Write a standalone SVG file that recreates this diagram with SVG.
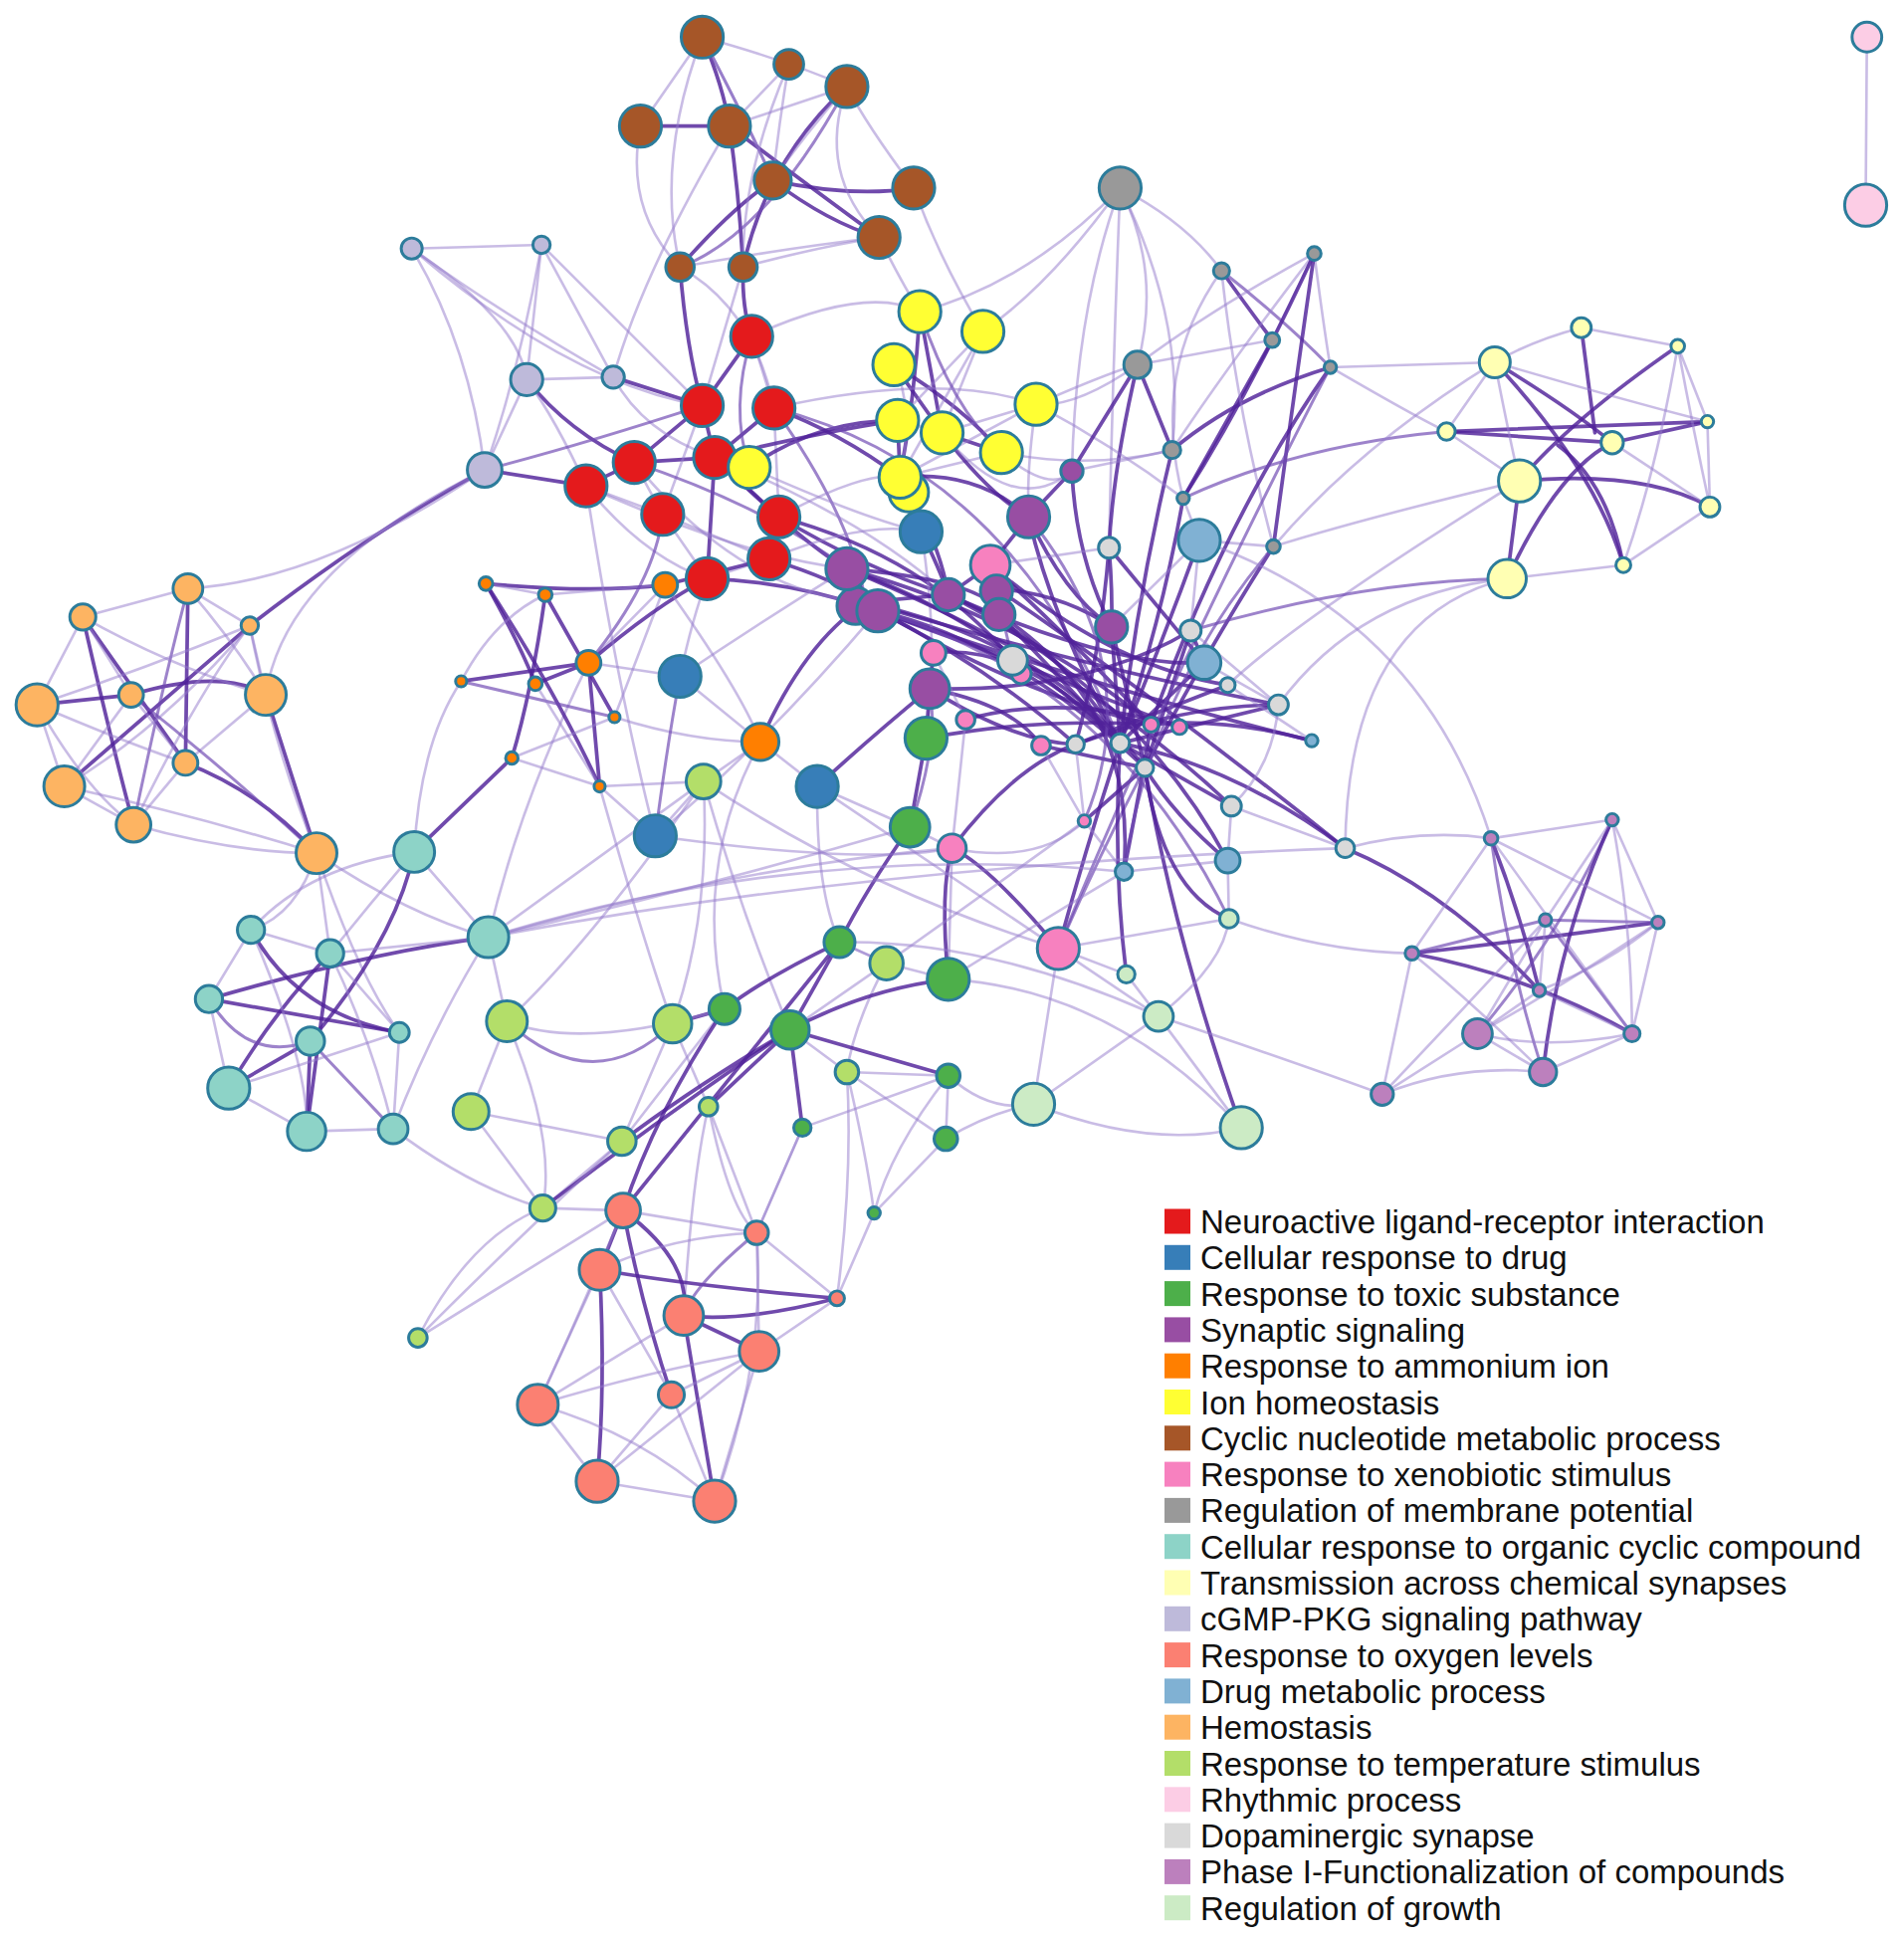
<svg xmlns="http://www.w3.org/2000/svg" width="1913" height="1948" viewBox="0 0 1913 1948">
<style>
.s{fill:none;stroke:#51229A;stroke-opacity:.82;stroke-width:3;stroke-linecap:round}
.m{fill:none;stroke:#6E48B2;stroke-opacity:.68;stroke-width:2.4;stroke-linecap:round}
.w{fill:none;stroke:#9479CC;stroke-opacity:.5;stroke-width:2.1;stroke-linecap:round}
circle{stroke:#2C7C9B;stroke-width:2.4}
.neu circle,rect.neu{fill:#E41A1C}
.drug circle,rect.drug{fill:#377EB8}
.tox circle,rect.tox{fill:#4DAF4A}
.syn circle,rect.syn{fill:#984EA3}
.amm circle,rect.amm{fill:#FF7F00}
.ion circle,rect.ion{fill:#FFFF33}
.cyc circle,rect.cyc{fill:#A65628}
.xen circle,rect.xen{fill:#F781BF}
.mem circle,rect.mem{fill:#999999}
.org circle,rect.org{fill:#8DD3C7}
.tra circle,rect.tra{fill:#FFFFB3}
.cgm circle,rect.cgm{fill:#BEBADA}
.oxy circle,rect.oxy{fill:#FB8072}
.dme circle,rect.dme{fill:#80B1D3}
.hem circle,rect.hem{fill:#FDB462}
.tem circle,rect.tem{fill:#B3DE69}
.rhy circle,rect.rhy{fill:#FCCDE5}
.dop circle,rect.dop{fill:#D9D9D9}
.pha circle,rect.pha{fill:#BC80BD}
.gro circle,rect.gro{fill:#CCEBC5}
rect{stroke:none}
text{font-family:"Liberation Sans",Arial,sans-serif;font-size:33px;fill:#111}
</style>
<rect x="0" y="0" width="1913" height="1948" fill="#fff"/>
<g transform="scale(1.24221)">
<g id="connectors">
<!-- brown -->
<path class="s" d="M518,102 L590,102"/>
<path class="s" d="M568,30 Q585,70 590,102"/>
<path class="s" d="M590,102 Q640,140 711,192"/>
<path class="s" d="M625,146 Q690,160 739,152"/>
<path class="s" d="M601,216 Q620,130 685,70"/>
<path class="s" d="M590,102 Q598,160 601,216"/>
<path class="s" d="M550,216 Q590,170 625,146"/>
<path class="s" d="M625,146 Q670,180 711,192"/>
<path class="m" d="M550,216 Q620,190 685,70"/>
<path class="m" d="M568,30 Q610,110 625,146"/>
<path class="w" d="M568,30 Q640,50 685,70"/>
<path class="w" d="M568,30 L518,102"/>
<path class="w" d="M568,30 Q600,90 625,146"/>
<path class="w" d="M638,52 L590,102"/>
<path class="w" d="M638,52 Q630,100 625,146"/>
<path class="w" d="M685,70 L590,102"/>
<path class="w" d="M685,70 Q650,110 625,146"/>
<path class="w" d="M685,70 Q660,140 711,192"/>
<path class="w" d="M518,102 Q505,170 550,216"/>
<path class="w" d="M550,216 Q640,200 711,192"/>
<path class="w" d="M601,216 Q660,200 711,192"/>
<path class="w" d="M739,152 Q700,100 685,70"/>
<path class="w" d="M568,30 Q530,130 550,216"/>
<path class="w" d="M638,52 Q600,140 601,216"/>
<path class="s" d="M601,216 Q600,250 608,272"/>
<path class="s" d="M550,216 Q555,280 568,328"/>
<path class="w" d="M601,216 L568,328"/>
<path class="w" d="M550,216 Q610,250 626,330"/>
<path class="w" d="M711,192 Q730,230 744,252"/>
<path class="w" d="M739,152 Q760,210 795,268"/>
<path class="w" d="M590,102 Q520,220 496,305"/>
<!-- red -->
<path class="s" d="M608,272 L568,328"/>
<path class="s" d="M568,328 L578,370"/>
<path class="s" d="M513,374 L578,370"/>
<path class="s" d="M578,370 L630,418"/>
<path class="s" d="M630,418 L622,452"/>
<path class="s" d="M578,370 L572,468"/>
<path class="s" d="M474,393 L513,374"/>
<path class="s" d="M626,330 L578,370"/>
<path class="s" d="M568,328 L513,374"/>
<path class="w" d="M608,272 L626,330"/>
<path class="w" d="M513,374 L536,416"/>
<path class="w" d="M536,416 L572,468"/>
<path class="w" d="M474,393 L536,416"/>
<path class="w" d="M626,330 L630,418"/>
<path class="w" d="M536,416 L622,452"/>
<path class="w" d="M474,393 Q520,450 572,468"/>
<path class="w" d="M568,328 L536,416"/>
<path class="s" d="M578,370 L606,378"/>
<path class="m" d="M608,272 Q590,330 606,378"/>
<path class="w" d="M622,452 L572,468"/>
<!-- cGMP -->
<path class="w" d="M333,201 L438,198"/>
<path class="w" d="M333,201 Q400,250 496,305"/>
<path class="w" d="M333,201 Q380,280 392,380"/>
<path class="w" d="M333,201 Q420,260 426,307"/>
<path class="w" d="M438,198 L426,307"/>
<path class="w" d="M438,198 L496,305"/>
<path class="w" d="M438,198 Q420,300 392,380"/>
<path class="w" d="M426,307 L496,305"/>
<path class="s" d="M426,307 Q460,350 513,374"/>
<path class="s" d="M496,305 L568,328"/>
<path class="s" d="M392,380 L474,393"/>
<path class="w" d="M426,307 Q450,340 474,393"/>
<path class="w" d="M392,380 L426,307"/>
<path class="s" d="M392,380 Q300,430 202,506"/>
<path class="w" d="M392,380 Q260,470 152,476"/>
<path class="w" d="M496,305 Q520,350 578,370"/>
<path class="m" d="M392,380 Q470,360 568,328"/>
<path class="w" d="M438,198 Q520,280 568,328"/>
<path class="w" d="M333,201 Q460,310 568,328"/>
<path class="w" d="M215,562 Q230,460 392,380"/>
<!-- yellow -->
<path class="s" d="M744,252 L762,350"/>
<path class="s" d="M744,252 Q740,320 728,386"/>
<path class="s" d="M723,295 Q780,330 810,366"/>
<path class="s" d="M723,295 L762,350"/>
<path class="w" d="M795,268 L726,340"/>
<path class="w" d="M726,340 L762,350"/>
<path class="s" d="M762,350 L810,366"/>
<path class="w" d="M838,327 L728,386"/>
<path class="w" d="M838,327 L762,350"/>
<path class="s" d="M728,386 L735,398"/>
<path class="w" d="M810,366 L728,386"/>
<path class="w" d="M795,268 L728,386"/>
<path class="s" d="M606,378 Q660,340 726,340"/>
<path class="w" d="M744,252 Q830,230 906,152"/>
<path class="w" d="M795,268 L762,350"/>
<path class="s" d="M726,340 L728,386"/>
<path class="s" d="M762,350 Q800,400 832,418"/>
<path class="w" d="M838,327 Q830,380 832,418"/>
<path class="m" d="M744,252 Q770,330 810,366"/>
<path class="w" d="M723,295 Q740,330 728,386"/>
<path class="w" d="M795,268 Q850,230 906,152"/>
<!-- red to hub -->
<path class="s" d="M578,370 Q660,350 726,340"/>
<path class="s" d="M626,330 Q680,350 728,386"/>
<path class="m" d="M626,330 Q690,420 700,487"/>
<path class="s" d="M578,370 Q650,440 685,460"/>
<path class="s" d="M630,418 Q700,460 767,481"/>
<path class="s" d="M572,468 Q640,470 710,494"/>
<path class="s" d="M622,452 Q680,470 700,487"/>
<path class="m" d="M513,374 Q620,410 685,460"/>
<path class="w" d="M474,393 Q600,450 685,460"/>
<path class="s" d="M630,418 Q750,450 819,534"/>
<path class="m" d="M626,330 Q820,380 906,601"/>
<path class="s" d="M685,460 Q800,500 906,601"/>
<path class="s" d="M710,494 Q820,520 926,621"/>
<path class="s" d="M700,487 Q820,560 931,586"/>
<path class="w" d="M606,378 Q700,420 745,430"/>
<path class="w" d="M626,330 Q760,300 838,327"/>
<path class="w" d="M630,418 Q700,380 728,386"/>
<path class="w" d="M608,272 Q700,230 744,252"/>
<path class="w" d="M622,452 Q700,420 745,430"/>
<path class="w" d="M578,370 Q700,420 767,481"/>
<path class="w" d="M513,374 Q600,480 700,487"/>
<!-- gray -->
<path class="w" d="M906,152 Q940,220 920,295"/>
<path class="w" d="M906,152 Q960,180 988,219"/>
<path class="w" d="M906,152 Q900,300 897,443"/>
<path class="w" d="M906,152 Q870,250 867,381"/>
<path class="w" d="M906,152 Q960,260 948,364"/>
<path class="s" d="M920,295 L948,364"/>
<path class="s" d="M920,295 Q900,380 897,443"/>
<path class="w" d="M920,295 L1029,275"/>
<path class="s" d="M988,219 Q1010,250 1029,275"/>
<path class="m" d="M988,219 Q1040,260 1076,297"/>
<path class="w" d="M1063,205 L1029,275"/>
<path class="w" d="M1063,205 Q980,250 920,295"/>
<path class="w" d="M1063,205 Q990,300 948,364"/>
<path class="s" d="M1063,205 Q1010,320 957,403"/>
<path class="w" d="M1076,297 L1209,293"/>
<path class="w" d="M948,364 L867,381"/>
<path class="s" d="M1029,275 L957,403"/>
<path class="s" d="M1076,297 Q1000,320 948,364"/>
<path class="w" d="M988,219 Q930,300 957,403"/>
<path class="w" d="M1063,205 Q1070,260 1076,297"/>
<path class="s" d="M1063,205 Q1045,330 1030,442"/>
<path class="w" d="M1076,297 Q1150,340 1170,349"/>
<path class="w" d="M988,219 Q1000,330 1030,442"/>
<path class="s" d="M957,403 Q940,500 906,601"/>
<path class="s" d="M948,364 Q920,480 906,601"/>
<path class="s" d="M1030,442 Q980,520 926,621"/>
<path class="w" d="M1030,442 L970,437"/>
<path class="s" d="M1076,297 Q990,420 931,586"/>
<path class="w" d="M920,295 Q870,330 838,327"/>
<path class="w" d="M838,327 Q900,300 920,295"/>
<path class="w" d="M810,366 Q880,380 948,364"/>
<path class="w" d="M838,327 Q900,360 957,403"/>
<path class="w" d="M810,366 Q850,400 867,381"/>
<path class="s" d="M920,295 Q880,360 867,381"/>
<!-- transmission -->
<path class="s" d="M1209,293 Q1270,330 1304,358"/>
<path class="s" d="M1209,293 Q1290,380 1313,457"/>
<path class="s" d="M1279,265 L1290,350"/>
<path class="s" d="M1357,280 Q1270,340 1229,389"/>
<path class="s" d="M1170,349 L1381,341"/>
<path class="s" d="M1170,349 L1304,358"/>
<path class="s" d="M1229,389 L1219,468"/>
<path class="s" d="M1229,389 Q1330,380 1383,410"/>
<path class="s" d="M1313,457 Q1300,390 1260,360"/>
<path class="s" d="M1304,358 L1381,341"/>
<path class="s" d="M1219,468 Q1260,380 1304,358"/>
<path class="w" d="M1209,293 Q1240,275 1279,265"/>
<path class="w" d="M1279,265 L1357,280"/>
<path class="w" d="M1357,280 L1381,341"/>
<path class="w" d="M1381,341 L1383,410"/>
<path class="w" d="M1383,410 L1313,457"/>
<path class="w" d="M1219,468 L1313,457"/>
<path class="w" d="M1209,293 L1170,349"/>
<path class="w" d="M1170,349 L1229,389"/>
<path class="w" d="M1209,293 Q1220,350 1229,389"/>
<path class="w" d="M1357,280 Q1370,350 1383,410"/>
<path class="w" d="M1304,358 L1383,410"/>
<path class="w" d="M1357,280 Q1340,380 1313,457"/>
<path class="w" d="M1209,293 Q1300,320 1381,341"/>
<path class="m" d="M1170,349 Q1050,360 957,403"/>
<path class="w" d="M1229,389 Q1100,420 1030,442"/>
<path class="w" d="M1219,468 Q1100,480 1034,570"/>
<path class="w" d="M1229,389 Q1050,500 993,554"/>
<path class="w" d="M1219,468 Q1090,500 1088,686"/>
<path class="m" d="M1219,468 Q1100,470 963,510"/>
<path class="w" d="M1209,293 Q1100,360 1030,442"/>
<!-- hemostasis -->
<path class="s" d="M67,499 L150,617"/>
<path class="s" d="M67,499 Q90,600 108,667"/>
<path class="s" d="M30,570 L106,562"/>
<path class="s" d="M106,562 Q180,540 215,562"/>
<path class="s" d="M202,506 L52,636"/>
<path class="s" d="M152,476 L150,617"/>
<path class="s" d="M150,617 Q210,640 256,690"/>
<path class="s" d="M215,562 Q240,640 256,690"/>
<path class="m" d="M152,476 Q130,560 108,667"/>
<path class="w" d="M152,476 L67,499"/>
<path class="w" d="M152,476 L202,506"/>
<path class="w" d="M67,499 L30,570"/>
<path class="w" d="M30,570 L52,636"/>
<path class="w" d="M52,636 L108,667"/>
<path class="w" d="M108,667 L150,617"/>
<path class="w" d="M202,506 L215,562"/>
<path class="w" d="M215,562 L150,617"/>
<path class="w" d="M152,476 Q190,520 215,562"/>
<path class="w" d="M67,499 Q140,540 215,562"/>
<path class="w" d="M30,570 Q100,600 150,617"/>
<path class="w" d="M52,636 Q130,590 202,506"/>
<path class="w" d="M52,636 L106,562"/>
<path class="w" d="M108,667 Q160,560 202,506"/>
<path class="w" d="M67,499 L106,562"/>
<path class="w" d="M30,570 Q70,640 108,667"/>
<path class="w" d="M106,562 L150,617"/>
<path class="w" d="M108,667 Q190,690 256,690"/>
<path class="w" d="M52,636 Q160,660 256,690"/>
<path class="m" d="M106,562 Q180,620 256,690"/>
<path class="w" d="M202,506 Q220,600 256,690"/>
<path class="w" d="M30,570 Q120,540 202,506"/>
<path class="w" d="M256,690 Q330,740 395,758"/>
<path class="w" d="M256,690 L267,771"/>
<path class="w" d="M256,690 Q290,790 323,835"/>
<path class="w" d="M256,690 Q240,740 203,752"/>
<!-- teal -->
<path class="s" d="M335,689 Q320,760 251,842"/>
<path class="s" d="M251,842 L248,915"/>
<path class="s" d="M395,758 Q300,770 169,808"/>
<path class="s" d="M203,752 Q240,820 323,835"/>
<path class="s" d="M169,808 L323,835"/>
<path class="s" d="M267,771 L248,915"/>
<path class="s" d="M185,880 Q220,820 267,771"/>
<path class="m" d="M169,808 Q200,860 251,842"/>
<path class="s" d="M185,880 L251,842"/>
<path class="w" d="M203,752 L267,771"/>
<path class="w" d="M203,752 L169,808"/>
<path class="w" d="M169,808 L185,880"/>
<path class="w" d="M185,880 L248,915"/>
<path class="w" d="M248,915 L318,913"/>
<path class="w" d="M323,835 L318,913"/>
<path class="w" d="M267,771 Q300,840 318,913"/>
<path class="m" d="M251,842 L318,913"/>
<path class="w" d="M267,771 L323,835"/>
<path class="w" d="M203,752 Q250,860 248,915"/>
<path class="w" d="M185,880 L323,835"/>
<path class="w" d="M335,689 L395,758"/>
<path class="w" d="M335,689 Q300,730 267,771"/>
<path class="w" d="M335,689 Q250,700 203,752"/>
<path class="w" d="M395,758 Q350,830 318,913"/>
<path class="w" d="M395,758 L267,771"/>
<path class="s" d="M335,689 L414,613"/>
<path class="w" d="M395,758 L569,632"/>
<path class="w" d="M395,758 Q600,700 770,686"/>
<path class="w" d="M395,758 Q560,720 736,669"/>
<path class="w" d="M395,758 Q420,650 476,536"/>
<path class="w" d="M318,913 Q380,960 439,977"/>
<path class="w" d="M373,551 Q340,600 335,689"/>
<!-- orange -->
<path class="s" d="M393,472 Q420,520 433,553"/>
<path class="s" d="M393,472 Q450,560 485,636"/>
<path class="s" d="M441,481 Q430,560 414,613"/>
<path class="s" d="M441,481 L497,580"/>
<path class="s" d="M373,551 L476,536"/>
<path class="m" d="M373,551 L497,580"/>
<path class="s" d="M433,553 L476,536"/>
<path class="s" d="M393,472 Q480,480 538,473"/>
<path class="w" d="M393,472 L441,481"/>
<path class="w" d="M441,481 L538,473"/>
<path class="w" d="M476,536 L538,473"/>
<path class="w" d="M414,613 L485,636"/>
<path class="w" d="M433,553 L485,636"/>
<path class="s" d="M476,536 L485,636"/>
<path class="w" d="M497,580 L538,473"/>
<path class="w" d="M373,551 Q400,500 441,481"/>
<path class="w" d="M414,613 L497,580"/>
<path class="s" d="M476,536 Q530,490 572,468"/>
<path class="s" d="M538,473 L622,452"/>
<path class="m" d="M476,536 Q530,470 536,416"/>
<path class="w" d="M615,600 L550,547"/>
<path class="s" d="M615,600 Q650,520 700,487"/>
<path class="w" d="M615,600 L661,636"/>
<path class="w" d="M615,600 L569,632"/>
<path class="w" d="M538,473 Q600,560 615,600"/>
<path class="w" d="M485,636 L569,632"/>
<path class="w" d="M497,580 Q560,600 615,600"/>
<!-- blue -->
<path class="w" d="M745,430 L728,386"/>
<path class="s" d="M745,430 Q760,460 767,481"/>
<path class="w" d="M745,430 Q760,520 749,597"/>
<path class="w" d="M550,547 Q560,500 572,468"/>
<path class="w" d="M550,547 Q620,500 685,460"/>
<path class="s" d="M661,636 Q700,600 752,557"/>
<path class="w" d="M530,676 L485,636"/>
<path class="w" d="M530,676 L569,632"/>
<path class="m" d="M530,676 Q540,600 550,547"/>
<path class="w" d="M530,676 Q620,600 710,494"/>
<path class="w" d="M474,393 Q500,560 530,676"/>
<path class="w" d="M550,547 L476,536"/>
<path class="w" d="M661,636 L736,669"/>
<!-- lime -->
<path class="w" d="M569,632 Q575,740 544,828"/>
<path class="w" d="M569,632 Q600,740 639,833"/>
<path class="w" d="M410,826 L381,899"/>
<path class="m" d="M410,826 Q480,890 544,828"/>
<path class="w" d="M410,826 L395,758"/>
<path class="w" d="M381,899 L503,923"/>
<path class="w" d="M381,899 L439,977"/>
<path class="w" d="M544,828 L573,895"/>
<path class="s" d="M544,828 L586,816"/>
<path class="w" d="M717,779 L679,762"/>
<path class="w" d="M717,779 L639,833"/>
<path class="w" d="M717,779 L767,792"/>
<path class="w" d="M503,923 L586,816"/>
<path class="s" d="M503,923 Q560,880 639,833"/>
<path class="s" d="M573,895 L639,833"/>
<path class="w" d="M685,867 L639,833"/>
<path class="w" d="M685,867 L765,921"/>
<path class="w" d="M439,977 L504,979"/>
<path class="w" d="M439,977 L503,923"/>
<path class="s" d="M439,977 Q540,900 639,833"/>
<path class="w" d="M338,1082 Q420,1000 503,923"/>
<path class="w" d="M338,1082 L504,979"/>
<path class="w" d="M338,1082 Q380,1000 439,977"/>
<path class="w" d="M544,828 L503,923"/>
<path class="w" d="M410,826 Q450,920 439,977"/>
<path class="w" d="M410,826 Q470,850 586,816"/>
<path class="w" d="M573,895 Q590,980 612,997"/>
<path class="w" d="M573,895 Q560,950 553,1064"/>
<path class="w" d="M685,867 Q690,950 677,1050"/>
<path class="w" d="M717,779 Q690,830 685,867"/>
<!-- green -->
<path class="s" d="M749,597 L736,669"/>
<path class="s" d="M736,669 Q700,720 679,762"/>
<path class="s" d="M679,762 Q620,790 586,816"/>
<path class="s" d="M679,762 L639,833"/>
<path class="s" d="M767,792 Q700,800 639,833"/>
<path class="s" d="M639,833 L767,870"/>
<path class="s" d="M639,833 L649,912"/>
<path class="w" d="M767,870 L765,921"/>
<path class="w" d="M765,921 L707,981"/>
<path class="w" d="M649,912 L767,870"/>
<path class="s" d="M679,762 Q600,860 504,979"/>
<path class="s" d="M749,597 L752,557"/>
<path class="m" d="M736,669 Q760,600 752,557"/>
<path class="w" d="M767,792 L770,686"/>
<path class="w" d="M679,762 L717,779"/>
<path class="w" d="M685,867 L767,870"/>
<path class="w" d="M765,921 Q800,900 836,893"/>
<path class="w" d="M707,981 L677,1050"/>
<path class="s" d="M767,792 Q760,720 770,686"/>
<path class="w" d="M736,669 L770,686"/>
<path class="s" d="M586,816 Q530,900 504,979"/>
<path class="w" d="M649,912 L612,997"/>
<path class="w" d="M767,870 Q720,930 707,981"/>
<path class="w" d="M685,867 Q700,930 707,981"/>
<path class="w" d="M612,997 L573,895"/>
<!-- oxygen -->
<path class="s" d="M504,979 L485,1027"/>
<path class="s" d="M504,979 Q560,1020 553,1064"/>
<path class="s" d="M485,1027 Q560,1040 677,1050"/>
<path class="s" d="M504,979 Q520,1060 543,1128"/>
<path class="s" d="M485,1027 Q490,1120 483,1198"/>
<path class="s" d="M553,1064 L578,1214"/>
<path class="m" d="M612,997 Q560,1040 553,1064"/>
<path class="s" d="M553,1064 Q600,1070 677,1050"/>
<path class="w" d="M612,997 L614,1093"/>
<path class="w" d="M612,997 L677,1050"/>
<path class="w" d="M614,1093 L677,1050"/>
<path class="w" d="M485,1027 L435,1136"/>
<path class="w" d="M435,1136 L483,1198"/>
<path class="w" d="M483,1198 L578,1214"/>
<path class="w" d="M435,1136 Q520,1160 578,1214"/>
<path class="w" d="M435,1136 Q520,1110 614,1093"/>
<path class="w" d="M543,1128 L578,1214"/>
<path class="w" d="M543,1128 L483,1198"/>
<path class="w" d="M614,1093 L483,1198"/>
<path class="w" d="M614,1093 L578,1214"/>
<path class="w" d="M485,1027 L543,1128"/>
<path class="s" d="M553,1064 L614,1093"/>
<path class="w" d="M504,979 L612,997"/>
<path class="w" d="M485,1027 Q540,1000 612,997"/>
<path class="w" d="M435,1136 L553,1064"/>
<path class="w" d="M543,1128 L614,1093"/>
<path class="w" d="M504,979 Q470,1060 435,1136"/>
<path class="w" d="M612,997 Q620,1100 578,1214"/>
<path class="w" d="M612,997 L649,912"/>
<!-- synaptic hub -->
<path class="s" d="M867,381 L832,418"/>
<path class="s" d="M867,381 Q870,450 899,507"/>
<path class="s" d="M832,418 Q860,480 899,507"/>
<path class="s" d="M832,418 Q850,500 906,601"/>
<path class="s" d="M685,460 L710,494"/>
<path class="s" d="M700,487 L767,481"/>
<path class="s" d="M710,494 L819,534"/>
<path class="s" d="M767,481 L801,457"/>
<path class="s" d="M806,476 Q860,480 899,507"/>
<path class="s" d="M808,497 Q850,540 906,601"/>
<path class="s" d="M752,557 L755,528"/>
<path class="s" d="M801,457 Q860,510 931,586"/>
<path class="s" d="M819,534 Q880,560 954,588"/>
<path class="s" d="M899,507 L906,601"/>
<path class="s" d="M899,507 L926,621"/>
<path class="s" d="M897,443 Q900,480 899,507"/>
<path class="s" d="M767,481 Q860,520 906,601"/>
<path class="s" d="M685,460 Q800,470 808,497"/>
<path class="s" d="M710,494 Q800,540 870,602"/>
<path class="s" d="M752,557 Q820,600 870,602"/>
<path class="s" d="M755,528 Q830,520 906,601"/>
<path class="s" d="M781,582 Q860,560 954,588"/>
<path class="s" d="M842,603 L926,621"/>
<path class="s" d="M749,597 Q840,580 931,586"/>
<path class="s" d="M770,686 Q820,620 870,602"/>
<path class="s" d="M856,767 Q880,680 906,601"/>
<path class="m" d="M856,767 Q890,690 926,621"/>
<path class="s" d="M877,664 L926,621"/>
<path class="s" d="M909,705 Q920,650 931,586"/>
<path class="s" d="M993,696 Q950,660 926,621"/>
<path class="s" d="M996,652 L906,601"/>
<path class="s" d="M1034,570 Q960,570 870,602"/>
<path class="s" d="M1034,570 L906,601"/>
<path class="s" d="M1061,599 Q990,580 931,586"/>
<path class="s" d="M1088,686 Q1000,620 906,601"/>
<path class="s" d="M974,536 L906,601"/>
<path class="s" d="M993,554 L870,602"/>
<path class="s" d="M970,437 Q940,520 906,601"/>
<path class="s" d="M963,510 L926,621"/>
<path class="s" d="M897,443 L974,536"/>
<path class="s" d="M897,443 Q890,530 870,602"/>
<path class="m" d="M801,457 L819,534"/>
<path class="s" d="M806,476 L808,497"/>
<path class="s" d="M832,418 L801,457"/>
<!-- bundle through hub -->
<path class="s" d="M700,487 Q880,540 1034,570"/>
<path class="s" d="M710,494 Q900,560 1061,599"/>
<path class="s" d="M767,481 Q920,560 993,696"/>
<path class="s" d="M806,476 Q930,560 1088,686"/>
<path class="s" d="M808,497 Q920,570 909,705"/>
<path class="s" d="M685,460 Q880,540 996,652"/>
<path class="s" d="M767,481 Q900,540 974,536"/>
<path class="m" d="M710,494 Q900,550 994,743"/>
<path class="s" d="M801,457 Q900,540 993,554"/>
<path class="m" d="M832,418 Q930,540 877,664"/>
<path class="s" d="M752,557 Q880,560 963,510"/>
<path class="m" d="M909,705 Q930,560 1030,442"/>
<path class="m" d="M856,767 Q940,560 1076,297"/>
<path class="s" d="M700,487 Q850,520 926,621"/>
<path class="s" d="M685,460 Q830,500 931,586"/>
<path class="w" d="M970,437 L963,510"/>
<path class="w" d="M970,437 L957,403"/>
<path class="w" d="M899,507 L970,437"/>
<path class="w" d="M897,443 L801,457"/>
<path class="w" d="M963,510 L1034,570"/>
<path class="s" d="M963,510 L974,536"/>
<path class="w" d="M974,536 L1034,570"/>
<path class="w" d="M993,554 L1061,599"/>
<path class="w" d="M996,652 L1088,686"/>
<path class="w" d="M993,696 L996,652"/>
<path class="w" d="M909,705 L877,664"/>
<path class="w" d="M909,705 L993,696"/>
<path class="w" d="M996,652 Q1030,620 1034,570"/>
<path class="w" d="M870,602 L877,664"/>
<path class="w" d="M842,603 L877,664"/>
<path class="s" d="M752,557 Q820,570 842,603"/>
<path class="w" d="M770,686 L781,582"/>
<path class="w" d="M781,582 L755,528"/>
<path class="w" d="M770,686 Q840,700 877,664"/>
<path class="s" d="M770,686 Q800,700 856,767"/>
<path class="s" d="M926,621 Q940,720 994,743"/>
<path class="s" d="M926,621 Q950,760 1004,912"/>
<path class="s" d="M906,601 Q900,700 911,788"/>
<path class="w" d="M911,788 L937,822"/>
<path class="w" d="M937,822 L1004,912"/>
<path class="w" d="M937,822 L836,893"/>
<path class="w" d="M836,893 Q930,930 1004,912"/>
<path class="w" d="M836,893 L856,767"/>
<path class="w" d="M911,788 L856,767"/>
<path class="w" d="M937,822 Q990,780 994,743"/>
<path class="w" d="M994,743 L993,696"/>
<path class="w" d="M856,767 L994,743"/>
<path class="w" d="M762,350 Q820,420 867,381"/>
<path class="s" d="M728,386 Q790,380 832,418"/>
<path class="s" d="M735,398 Q760,440 767,481"/>
<!-- long crossing lines -->
<path class="w" d="M395,758 Q650,680 909,705"/>
<path class="w" d="M395,758 Q700,700 1088,686"/>
<path class="w" d="M569,632 Q700,720 856,767"/>
<path class="w" d="M661,636 Q800,730 937,822"/>
<path class="w" d="M530,676 Q700,700 770,686"/>
<path class="w" d="M615,600 Q560,700 586,816"/>
<path class="w" d="M661,636 Q660,720 679,762"/>
<path class="w" d="M767,792 Q850,740 909,705"/>
<path class="w" d="M717,779 Q800,720 877,664"/>
<path class="w" d="M767,792 Q900,800 1004,912"/>
<path class="w" d="M836,893 Q800,900 767,870"/>
<path class="w" d="M679,762 Q800,760 937,822"/>
<path class="w" d="M485,636 Q520,760 544,828"/>
<path class="w" d="M569,632 Q480,760 410,826"/>
<!-- phase I -->
<path class="w" d="M1088,686 Q1150,670 1206,678"/>
<path class="s" d="M1088,686 Q1170,720 1245,801"/>
<path class="w" d="M994,743 Q1070,770 1142,771"/>
<path class="w" d="M970,437 Q1150,500 1206,678"/>
<path class="w" d="M937,822 Q1050,860 1118,885"/>
<path class="s" d="M1206,678 Q1230,740 1245,801"/>
<path class="m" d="M1206,678 Q1220,780 1248,867"/>
<path class="s" d="M1142,771 Q1240,760 1341,746"/>
<path class="m" d="M1142,771 L1250,744"/>
<path class="m" d="M1250,744 L1341,746"/>
<path class="s" d="M1142,771 Q1240,790 1320,836"/>
<path class="m" d="M1304,663 Q1260,760 1195,836"/>
<path class="s" d="M1304,663 Q1260,760 1248,867"/>
<path class="m" d="M1250,744 L1320,836"/>
<path class="w" d="M1206,678 Q1260,670 1304,663"/>
<path class="w" d="M1206,678 L1142,771"/>
<path class="w" d="M1304,663 L1341,746"/>
<path class="w" d="M1341,746 L1320,836"/>
<path class="w" d="M1320,836 L1248,867"/>
<path class="w" d="M1248,867 L1195,836"/>
<path class="w" d="M1195,836 L1118,885"/>
<path class="w" d="M1118,885 L1142,771"/>
<path class="w" d="M1118,885 Q1180,860 1248,867"/>
<path class="w" d="M1118,885 Q1180,820 1250,744"/>
<path class="w" d="M1195,836 L1250,744"/>
<path class="w" d="M1195,836 Q1260,800 1341,746"/>
<path class="w" d="M1206,678 L1320,836"/>
<path class="w" d="M1206,678 L1341,746"/>
<path class="w" d="M1304,663 L1250,744"/>
<path class="w" d="M1245,801 L1250,744"/>
<path class="w" d="M1245,801 L1195,836"/>
<path class="w" d="M1245,801 L1320,836"/>
<path class="w" d="M1245,801 Q1300,780 1341,746"/>
<path class="w" d="M1304,663 Q1320,750 1320,836"/>
<path class="w" d="M1142,771 Q1190,810 1248,867"/>
<path class="w" d="M1195,836 Q1250,850 1320,836"/>
<!-- rhythmic -->
<path class="w" d="M1510,30 L1509,166"/>
</g>
<g id="nodes">
<g id="b1" class="cyc"><circle cx="568" cy="30" r="17"/></g>
<g id="b2" class="cyc"><circle cx="638" cy="52" r="12"/></g>
<g id="b3" class="cyc"><circle cx="685" cy="70" r="17"/></g>
<g id="b4" class="cyc"><circle cx="518" cy="102" r="17"/></g>
<g id="b5" class="cyc"><circle cx="590" cy="102" r="17"/></g>
<g id="b6" class="cyc"><circle cx="625" cy="146" r="15"/></g>
<g id="b7" class="cyc"><circle cx="739" cy="152" r="17"/></g>
<g id="b8" class="cyc"><circle cx="711" cy="192" r="17"/></g>
<g id="b9" class="cyc"><circle cx="550" cy="216" r="11.5"/></g>
<g id="b10" class="cyc"><circle cx="601" cy="216" r="11.5"/></g>
<g id="g1" class="mem"><circle cx="906" cy="152" r="17"/></g>
<g id="g2" class="mem"><circle cx="920" cy="295" r="11"/></g>
<g id="g3" class="mem"><circle cx="988" cy="219" r="6.5"/></g>
<g id="g4" class="mem"><circle cx="1063" cy="205" r="5.5"/></g>
<g id="g5" class="mem"><circle cx="1029" cy="275" r="6"/></g>
<g id="g6" class="mem"><circle cx="1076" cy="297" r="5"/></g>
<g id="g7" class="mem"><circle cx="948" cy="364" r="7"/></g>
<g id="g8" class="mem"><circle cx="957" cy="403" r="5"/></g>
<g id="g9" class="mem"><circle cx="1030" cy="442" r="5.5"/></g>
<g id="y10" class="ion"><circle cx="735" cy="398" r="16"/></g>
<g id="y1" class="ion"><circle cx="744" cy="252" r="17"/></g>
<g id="y2" class="ion"><circle cx="795" cy="268" r="17"/></g>
<g id="y3" class="ion"><circle cx="723" cy="295" r="17"/></g>
<g id="y4" class="ion"><circle cx="838" cy="327" r="17"/></g>
<g id="y5" class="ion"><circle cx="726" cy="340" r="17"/></g>
<g id="y6" class="ion"><circle cx="762" cy="350" r="17"/></g>
<g id="y7" class="ion"><circle cx="810" cy="366" r="17"/></g>
<g id="y9" class="ion"><circle cx="728" cy="386" r="17"/></g>
<g id="r1" class="neu"><circle cx="608" cy="272" r="17"/></g>
<g id="r2" class="neu"><circle cx="568" cy="328" r="17"/></g>
<g id="r3" class="neu"><circle cx="626" cy="330" r="17"/></g>
<g id="r4" class="neu"><circle cx="513" cy="374" r="17"/></g>
<g id="r5" class="neu"><circle cx="578" cy="370" r="17"/></g>
<g id="y8" class="ion"><circle cx="606" cy="378" r="17"/></g>
<g id="r6" class="neu"><circle cx="474" cy="393" r="17"/></g>
<g id="r7" class="neu"><circle cx="536" cy="416" r="17"/></g>
<g id="r8" class="neu"><circle cx="630" cy="418" r="17"/></g>
<g id="r9" class="neu"><circle cx="622" cy="452" r="17"/></g>
<g id="r10" class="neu"><circle cx="572" cy="468" r="17"/></g>
<g id="c1" class="cgm"><circle cx="333" cy="201" r="8.5"/></g>
<g id="c2" class="cgm"><circle cx="438" cy="198" r="7"/></g>
<g id="c3" class="cgm"><circle cx="426" cy="307" r="13"/></g>
<g id="c4" class="cgm"><circle cx="496" cy="305" r="9"/></g>
<g id="c5" class="cgm"><circle cx="392" cy="380" r="14"/></g>
<g id="u1" class="drug"><circle cx="745" cy="430" r="17"/></g>
<g id="u2" class="drug"><circle cx="550" cy="547" r="17"/></g>
<g id="u3" class="drug"><circle cx="661" cy="636" r="17"/></g>
<g id="u4" class="drug"><circle cx="530" cy="676" r="17"/></g>
<g id="o1" class="amm"><circle cx="538" cy="473" r="10"/></g>
<g id="o2" class="amm"><circle cx="393" cy="472" r="5.5"/></g>
<g id="o3" class="amm"><circle cx="441" cy="481" r="5.5"/></g>
<g id="o4" class="amm"><circle cx="476" cy="536" r="10"/></g>
<g id="o5" class="amm"><circle cx="373" cy="551" r="4.5"/></g>
<g id="o6" class="amm"><circle cx="433" cy="553" r="5.5"/></g>
<g id="o7" class="amm"><circle cx="497" cy="580" r="4.5"/></g>
<g id="o8" class="amm"><circle cx="414" cy="613" r="5"/></g>
<g id="o9" class="amm"><circle cx="485" cy="636" r="4.5"/></g>
<g id="o10" class="amm"><circle cx="615" cy="600" r="15"/></g>
<g id="h1" class="hem"><circle cx="152" cy="476" r="12"/></g>
<g id="h2" class="hem"><circle cx="67" cy="499" r="10.5"/></g>
<g id="h3" class="hem"><circle cx="202" cy="506" r="7"/></g>
<g id="h4" class="hem"><circle cx="30" cy="570" r="17"/></g>
<g id="h5" class="hem"><circle cx="106" cy="562" r="10"/></g>
<g id="h6" class="hem"><circle cx="215" cy="562" r="16.5"/></g>
<g id="h7" class="hem"><circle cx="150" cy="617" r="10"/></g>
<g id="h8" class="hem"><circle cx="52" cy="636" r="16.5"/></g>
<g id="h9" class="hem"><circle cx="108" cy="667" r="14"/></g>
<g id="h10" class="hem"><circle cx="256" cy="690" r="16.5"/></g>
<g id="t1" class="org"><circle cx="335" cy="689" r="16.5"/></g>
<g id="t2" class="org"><circle cx="395" cy="758" r="16.5"/></g>
<g id="t3" class="org"><circle cx="203" cy="752" r="11"/></g>
<g id="t4" class="org"><circle cx="267" cy="771" r="11"/></g>
<g id="t5" class="org"><circle cx="169" cy="808" r="11"/></g>
<g id="t6" class="org"><circle cx="323" cy="835" r="8"/></g>
<g id="t7" class="org"><circle cx="251" cy="842" r="11.5"/></g>
<g id="t8" class="org"><circle cx="185" cy="880" r="17"/></g>
<g id="t9" class="org"><circle cx="248" cy="915" r="15.5"/></g>
<g id="t10" class="org"><circle cx="318" cy="913" r="12"/></g>
<g id="l1" class="tem"><circle cx="569" cy="632" r="14"/></g>
<g id="l2" class="tem"><circle cx="410" cy="826" r="16.5"/></g>
<g id="l3" class="tem"><circle cx="544" cy="828" r="15.5"/></g>
<g id="l4" class="tem"><circle cx="717" cy="779" r="13.5"/></g>
<g id="l5" class="tem"><circle cx="381" cy="899" r="14.5"/></g>
<g id="l6" class="tem"><circle cx="503" cy="923" r="11.5"/></g>
<g id="l7" class="tem"><circle cx="573" cy="895" r="7.5"/></g>
<g id="l8" class="tem"><circle cx="685" cy="867" r="9.5"/></g>
<g id="l9" class="tem"><circle cx="439" cy="977" r="10.5"/></g>
<g id="l10" class="tem"><circle cx="338" cy="1082" r="7.5"/></g>
<g id="n1" class="tox"><circle cx="749" cy="597" r="17"/></g>
<g id="n2" class="tox"><circle cx="736" cy="669" r="16"/></g>
<g id="n3" class="tox"><circle cx="679" cy="762" r="12.5"/></g>
<g id="n4" class="tox"><circle cx="767" cy="792" r="17"/></g>
<g id="n5" class="tox"><circle cx="586" cy="816" r="12.5"/></g>
<g id="n6" class="tox"><circle cx="639" cy="833" r="15.5"/></g>
<g id="n7" class="tox"><circle cx="767" cy="870" r="9.5"/></g>
<g id="n8" class="tox"><circle cx="649" cy="912" r="7"/></g>
<g id="n9" class="tox"><circle cx="765" cy="921" r="9.5"/></g>
<g id="n10" class="tox"><circle cx="707" cy="981" r="5"/></g>
<g id="s1" class="oxy"><circle cx="504" cy="979" r="14"/></g>
<g id="s2" class="oxy"><circle cx="612" cy="997" r="9.5"/></g>
<g id="s3" class="oxy"><circle cx="485" cy="1027" r="16.5"/></g>
<g id="s4" class="oxy"><circle cx="677" cy="1050" r="6"/></g>
<g id="s5" class="oxy"><circle cx="553" cy="1064" r="16"/></g>
<g id="s6" class="oxy"><circle cx="614" cy="1093" r="16"/></g>
<g id="s7" class="oxy"><circle cx="543" cy="1128" r="10.5"/></g>
<g id="s8" class="oxy"><circle cx="435" cy="1136" r="16.5"/></g>
<g id="s9" class="oxy"><circle cx="483" cy="1198" r="17"/></g>
<g id="s10" class="oxy"><circle cx="578" cy="1214" r="17"/></g>
<g id="p4" class="syn"><circle cx="692" cy="490" r="15"/></g>
<g id="p3" class="syn"><circle cx="685" cy="460" r="17"/></g>
<g id="p5" class="syn"><circle cx="710" cy="494" r="17"/></g>
<g id="p1" class="syn"><circle cx="867" cy="381" r="9"/></g>
<g id="p2" class="syn"><circle cx="832" cy="418" r="17"/></g>
<g id="p6" class="syn"><circle cx="767" cy="481" r="13"/></g>
<g id="k1" class="xen"><circle cx="801" cy="457" r="16"/></g>
<g id="p7" class="syn"><circle cx="806" cy="478" r="13"/></g>
<g id="p8" class="syn"><circle cx="808" cy="497" r="13"/></g>
<g id="p9" class="syn"><circle cx="899" cy="507" r="13"/></g>
<g id="k2" class="xen"><circle cx="755" cy="528" r="10"/></g>
<g id="k10" class="xen"><circle cx="826" cy="545" r="8"/></g>
<g id="d2" class="dop"><circle cx="819" cy="534" r="12"/></g>
<g id="p10" class="syn"><circle cx="752" cy="557" r="16"/></g>
<g id="k3" class="xen"><circle cx="781" cy="582" r="7.5"/></g>
<g id="k4" class="xen"><circle cx="842" cy="603" r="7.5"/></g>
<g id="k5" class="xen"><circle cx="770" cy="686" r="11.5"/></g>
<g id="k6" class="xen"><circle cx="856" cy="767" r="17"/></g>
<g id="k7" class="xen"><circle cx="877" cy="664" r="5"/></g>
<g id="k8" class="xen"><circle cx="931" cy="586" r="6"/></g>
<g id="k9" class="xen"><circle cx="954" cy="588" r="6"/></g>
<g id="d1" class="dop"><circle cx="897" cy="443" r="8.5"/></g>
<g id="d3" class="dop"><circle cx="963" cy="510" r="8.5"/></g>
<g id="d4" class="dop"><circle cx="870" cy="602" r="7"/></g>
<g id="d5" class="dop"><circle cx="906" cy="601" r="7.5"/></g>
<g id="d6" class="dop"><circle cx="926" cy="621" r="7"/></g>
<g id="d7" class="dop"><circle cx="996" cy="652" r="8"/></g>
<g id="d8" class="dop"><circle cx="1034" cy="570" r="8"/></g>
<g id="d9" class="dop"><circle cx="1088" cy="686" r="7.5"/></g>
<g id="m3" class="dop"><circle cx="993" cy="554" r="6"/></g>
<g id="m1" class="dme"><circle cx="970" cy="437" r="17"/></g>
<g id="m2" class="dme"><circle cx="974" cy="536" r="13.5"/></g>
<g id="m4" class="dme"><circle cx="993" cy="696" r="10"/></g>
<g id="m5" class="dme"><circle cx="909" cy="705" r="7"/></g>
<g id="m6" class="dme"><circle cx="1061" cy="599" r="5"/></g>
<g id="x1" class="tra"><circle cx="1209" cy="293" r="12.5"/></g>
<g id="x2" class="tra"><circle cx="1279" cy="265" r="8"/></g>
<g id="x3" class="tra"><circle cx="1357" cy="280" r="5.5"/></g>
<g id="x4" class="tra"><circle cx="1170" cy="349" r="7"/></g>
<g id="x5" class="tra"><circle cx="1304" cy="358" r="9"/></g>
<g id="x6" class="tra"><circle cx="1381" cy="341" r="5"/></g>
<g id="x7" class="tra"><circle cx="1229" cy="389" r="17"/></g>
<g id="x8" class="tra"><circle cx="1383" cy="410" r="8"/></g>
<g id="x9" class="tra"><circle cx="1219" cy="468" r="15.5"/></g>
<g id="x10" class="tra"><circle cx="1313" cy="457" r="6"/></g>
<g id="f1" class="pha"><circle cx="1206" cy="678" r="5.5"/></g>
<g id="f2" class="pha"><circle cx="1304" cy="663" r="5"/></g>
<g id="f3" class="pha"><circle cx="1142" cy="771" r="5.5"/></g>
<g id="f4" class="pha"><circle cx="1250" cy="744" r="5"/></g>
<g id="f5" class="pha"><circle cx="1341" cy="746" r="5"/></g>
<g id="f6" class="pha"><circle cx="1245" cy="801" r="5"/></g>
<g id="f7" class="pha"><circle cx="1195" cy="836" r="12"/></g>
<g id="f8" class="pha"><circle cx="1320" cy="836" r="6.5"/></g>
<g id="f9" class="pha"><circle cx="1248" cy="867" r="11"/></g>
<g id="f10" class="pha"><circle cx="1118" cy="885" r="9"/></g>
<g id="w1" class="gro"><circle cx="937" cy="822" r="12"/></g>
<g id="w2" class="gro"><circle cx="836" cy="893" r="17"/></g>
<g id="w3" class="gro"><circle cx="1004" cy="912" r="17"/></g>
<g id="w4" class="gro"><circle cx="911" cy="788" r="7"/></g>
<g id="w5" class="gro"><circle cx="994" cy="743" r="7.5"/></g>
<g id="z1" class="rhy"><circle cx="1510" cy="30" r="12"/></g>
<g id="z2" class="rhy"><circle cx="1509" cy="166" r="17"/></g>
</g>
</g>
<g id="legend">
<rect class="neu" x="1170" y="1214.5" width="26" height="25"/><text x="1206" y="1239">Neuroactive ligand-receptor interaction</text>
<rect class="drug" x="1170" y="1250.8" width="26" height="25"/><text x="1206" y="1275.3">Cellular response to drug</text>
<rect class="tox" x="1170" y="1287.1" width="26" height="25"/><text x="1206" y="1311.6">Response to toxic substance</text>
<rect class="syn" x="1170" y="1323.4" width="26" height="25"/><text x="1206" y="1347.9">Synaptic signaling</text>
<rect class="amm" x="1170" y="1359.7" width="26" height="25"/><text x="1206" y="1384.2">Response to ammonium ion</text>
<rect class="ion" x="1170" y="1396" width="26" height="25"/><text x="1206" y="1420.5">Ion homeostasis</text>
<rect class="cyc" x="1170" y="1432.3" width="26" height="25"/><text x="1206" y="1456.8">Cyclic nucleotide metabolic process</text>
<rect class="xen" x="1170" y="1468.6" width="26" height="25"/><text x="1206" y="1493.1">Response to xenobiotic stimulus</text>
<rect class="mem" x="1170" y="1504.9" width="26" height="25"/><text x="1206" y="1529.4">Regulation of membrane potential</text>
<rect class="org" x="1170" y="1541.2" width="26" height="25"/><text x="1206" y="1565.7">Cellular response to organic cyclic compound</text>
<rect class="tra" x="1170" y="1577.5" width="26" height="25"/><text x="1206" y="1602">Transmission across chemical synapses</text>
<rect class="cgm" x="1170" y="1613.8" width="26" height="25"/><text x="1206" y="1638.3">cGMP-PKG signaling pathway</text>
<rect class="oxy" x="1170" y="1650.1" width="26" height="25"/><text x="1206" y="1674.6">Response to oxygen levels</text>
<rect class="dme" x="1170" y="1686.4" width="26" height="25"/><text x="1206" y="1710.9">Drug metabolic process</text>
<rect class="hem" x="1170" y="1722.7" width="26" height="25"/><text x="1206" y="1747.2">Hemostasis</text>
<rect class="tem" x="1170" y="1759" width="26" height="25"/><text x="1206" y="1783.5">Response to temperature stimulus</text>
<rect class="rhy" x="1170" y="1795.3" width="26" height="25"/><text x="1206" y="1819.8">Rhythmic process</text>
<rect class="dop" x="1170" y="1831.6" width="26" height="25"/><text x="1206" y="1856.1">Dopaminergic synapse</text>
<rect class="pha" x="1170" y="1867.9" width="26" height="25"/><text x="1206" y="1892.4">Phase I-Functionalization of compounds</text>
<rect class="gro" x="1170" y="1904.2" width="26" height="25"/><text x="1206" y="1928.7">Regulation of growth</text>
</g>
</svg>
